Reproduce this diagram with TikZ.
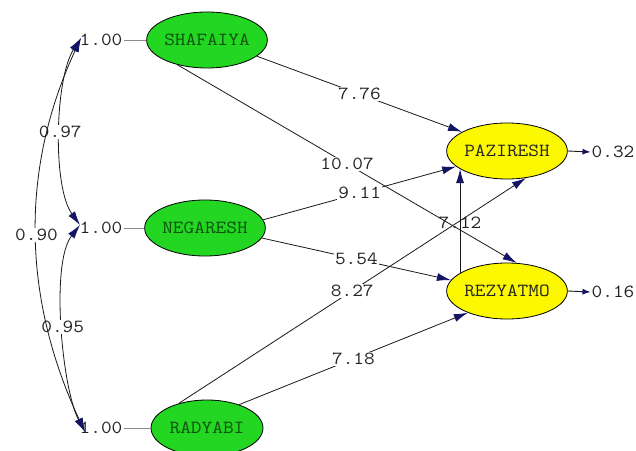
\documentclass[tikz,border=0pt]{standalone}
\usepackage{fontspec}
\newfontfamily\cour[FakeStretch=1.12]{Latin Modern Mono}
\usetikzlibrary{shapes.geometric,arrows.meta}
\definecolor{lgreen}{RGB}{34,214,34}
\definecolor{lyellow}{RGB}{252,248,0}
\definecolor{navy}{RGB}{20,20,100}
\definecolor{txt}{RGB}{35,35,35}
\definecolor{gtxt}{RGB}{15,80,15}
\begin{document}
\begin{tikzpicture}[x=1pt,y=1pt,
  font=\cour\fontsize{18.5}{18.5}\selectfont,
  lat/.style={ellipse,draw=black,line width=0.8pt,minimum width=112pt,minimum height=56pt,inner sep=0pt,fill=lgreen,text=gtxt},
  endo/.style={lat,fill=lyellow,text=txt},
  lbl/.style={fill=white,inner sep=1pt,text=txt},
  plain/.style={inner sep=1pt,text=txt},
  pth/.style={draw=black!90,line width=0.8pt,-{Latex[length=14pt,width=8pt,color=navy]}},
  cov/.style={draw=black!90,line width=0.8pt,{Latex[length=14pt,width=8pt,color=navy]}-{Latex[length=14pt,width=8pt,color=navy]}},
  err/.style={draw=black!90,line width=0.9pt,-{Latex[length=8pt,width=6pt,color=navy]}},
  varl/.style={draw=black!45,line width=0.6pt}
]
\useasboundingbox (0,0) rectangle (636,450);
\clip (0,0) rectangle (636,450);
\fill[white] (0,0) rectangle (636,450);

% latent variables
\node[lat] (SHA) at (207,410) {SHAFAIYA};
\node[lat] (NEG) at (205,222) {NEGARESH};
\node[lat] (RAD) at (207,22) {RADYABI};
\node[endo] (PAZ) at (507,299) {PAZIRESH};
\node[endo] (REZ) at (507,159) {REZYATMO};

% variances
\node[plain] (v1) at (101,410) {1.00};
\node[plain] (v2) at (101,222) {1.00};
\node[plain] (v3) at (101,22) {1.00};
\draw[varl] (v1.east) -- (SHA.west);
\draw[varl] (v2.east) -- (NEG.west);
\draw[varl] (v3.east) -- (RAD.west);

% covariance arc end points
\coordinate (T) at (81,412);
\coordinate (M) at (80,225);
\coordinate (B) at (85,18);

\draw[cov] (T) to[out=237,in=126,looseness=0.65] node[pos=0.5,lbl] (c1) {0.97} (M);
\draw[cov] (M) to[out=232,in=118,looseness=0.6] node[pos=0.5,lbl] (c2) {0.95} (B);
\draw[cov] (T) to[out=245,in=115,looseness=0.95] node[pos=0.5,lbl] (c3) {0.90} (B);

% paths
\draw[pth] (SHA.-18) -- node[pos=0.5,lbl] (l1) {7.76} (PAZ.157);
\draw[pth] (SHA.-140) -- node[pos=0.5,lbl] (l2) {10.07} (REZ.71);
\draw[pth] (NEG.8) -- node[pos=0.5,lbl] (l3) {9.11} (PAZ.197);
\draw[pth] (NEG.-10) -- node[pos=0.5,lbl] (l4) {5.54} (REZ.169);
\draw[pth] (RAD.139) -- node[pos=0.5,lbl] (l5) {8.27} (PAZ.-55);
\draw[pth] (RAD.36) -- node[pos=0.5,lbl] (l6) {7.18} (REZ.209);
\draw[pth] (REZ.159) -- (PAZ.201);
\node[plain] (l7) at (460,227) {7.12};

% errors
\node[plain] (e1) at (613,298) {0.32};
\node[plain] (e2) at (613,158) {0.16};
\draw[err] (PAZ.east) -- (e1.west);
\draw[err] (REZ.east) -- (e2.west);
\end{tikzpicture}
\end{document}
